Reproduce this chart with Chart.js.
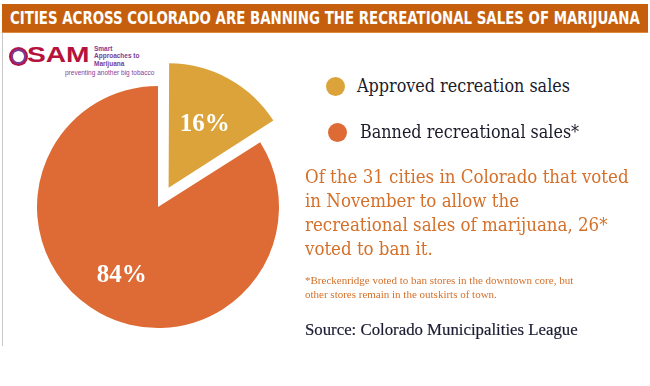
<!DOCTYPE html>
<html>
<head>
<meta charset="utf-8">
<script src="https://cdn.jsdelivr.net/npm/chart.js@4.4.1/dist/chart.umd.min.js"></script>
<style>
  body { margin: 0; width: 650px; height: 386px; background: #fff; position: relative; overflow: hidden; font-family: "DejaVu Serif Condensed", "DejaVu Serif", serif; }
  #titlebar { position: absolute; left: 2px; top: 4px; width: 646px; height: 28px; background: #c55f0e; border-bottom: 1px solid #e08a40; }
  #title { position: absolute; left: 8px; top: 4px; color: #fff; font: bold 17px "DejaVu Sans Condensed", "Liberation Sans", sans-serif; white-space: nowrap; transform-origin: left center; }
  #frame { position: absolute; left: 2px; top: 33px; width: 1px; height: 313px; background: #c8c8c8; }
  #chartBox { position: absolute; left: 0; top: 40px; width: 320px; height: 340px; }
  #legend { position: absolute; left: 326px; top: 77px; }
  .item { position: absolute; white-space: nowrap; font-size: 17.8px; color: #1b1b2b; }
  .dot { position: absolute; width: 19px; height: 19px; border-radius: 50%; }
  #para { position: absolute; left: 305px; top: 165px; white-space: nowrap; font-size: 18.5px; line-height: 24px; color: #d4702a; }
  #note { position: absolute; left: 305px; top: 273px; font-family: "Liberation Serif", serif; font-size: 11px; line-height: 14px; color: #d4702a; }
  #source { position: absolute; left: 305px; top: 320px; font-family: "Liberation Serif", serif; font-size: 16.8px; color: #1b1c33; -webkit-text-stroke: 0.2px #1b1c33; }
  #logo { position: absolute; left: 0; top: 0; }
</style>
</head>
<body>
<div id="titlebar"><div id="title">CITIES ACROSS COLORADO ARE BANNING THE RECREATIONAL SALES OF MARIJUANA</div></div>
<div id="frame"></div>
<div id="logo">
  <div style="position:absolute;left:11px;top:49px;width:11px;height:11px;border:2px solid #7a3d96;border-radius:50%;background:#fff;box-shadow:0 0 0 2px #b0144a;"></div>
  <div style="position:absolute;left:27px;top:42px;font:bold 22px 'Liberation Sans',sans-serif;color:#b5123e;transform:scaleX(1.28);transform-origin:left top;">SAM</div>
  <div style="position:absolute;left:94px;top:45px;font:bold 6.5px/7.4px 'Liberation Sans',sans-serif;color:#7a3d96;white-space:nowrap;">Smart<br>Approaches to<br>Marijuana</div>
  <div style="position:absolute;left:65px;top:69px;font:6.5px 'Liberation Sans',sans-serif;color:#8a3d96;white-space:nowrap;">preventing another big tobacco</div>
</div>
<div id="chartBox"><canvas id="pie"></canvas></div>
<div id="legend"></div>
<div id="para">Of the 31 cities in Colorado that voted<br>in November to allow the<br>recreational sales of marijuana, 26*<br>voted to ban it.</div>
<div id="note">*Breckenridge voted to ban stores in the downtown core, but<br>other stores remain in the outskirts of town.</div>
<div id="source">Source: Colorado Municipalities League</div>
<script>
const categories = ['Approved recreation sales', 'Banned recreational sales*'];
const shares = [16, 84];
const sliceColors = ['#dba339', '#de6b35'];

// squeeze the title into the bar width
const title = document.getElementById('title');
title.style.transform = 'scaleX(' + (630 / title.scrollWidth) + ')';

// legend on the right
const legend = document.getElementById('legend');
categories.forEach((name, i) => {
  const row = document.createElement('div');
  row.style.position = 'absolute';
  row.style.top = (i * 46) + 'px';
  row.innerHTML = '<div class="dot" style="left:' + (i * 2) + 'px;top:0;background:' + sliceColors[i] + '"></div>' +
    '<div class="item" style="left:' + (31 + i * 3) + 'px;top:-2px">' + name + '</div>';
  legend.appendChild(row);
});

// percent labels inside the slices
const sliceLabels = {
  id: 'sliceLabels',
  afterDatasetsDraw(chart) {
    const ctx = chart.ctx;
    const meta = chart.getDatasetMeta(0);
    ctx.save();
    ctx.fillStyle = '#fff';
    ctx.font = 'bold 25px "Liberation Serif", serif';
    ctx.textAlign = 'center';
    ctx.textBaseline = 'middle';
    meta.data.forEach((arc, i) => {
      const p = arc.getProps(['x', 'y', 'startAngle', 'endAngle', 'outerRadius']);
      const mid = (p.startAngle + p.endAngle) / 2;
      const shift = (arc.options.offset || 0) / 4;
      const d = shift + p.outerRadius * 0.62;
      ctx.fillText(shares[i] + '%', p.x + Math.cos(mid) * d, p.y + Math.sin(mid) * d + 3);
    });
    ctx.restore();
  }
};

new Chart(document.getElementById('pie'), {
  type: 'pie',
  data: {
    labels: categories,
    datasets: [{
      data: shares,
      backgroundColor: sliceColors,
      borderWidth: 0,
      offset: [88, 0],
      hoverOffset: 0
    }]
  },
  options: {
    responsive: true,
    maintainAspectRatio: false,
    animation: false,
    radius: 121,
    layout: { padding: { left: 0, right: 4, top: 0, bottom: 6 } },
    plugins: {
      legend: { display: false },
      tooltip: { enabled: false }
    }
  },
  plugins: [sliceLabels]
});
</script>
</body>
</html>
